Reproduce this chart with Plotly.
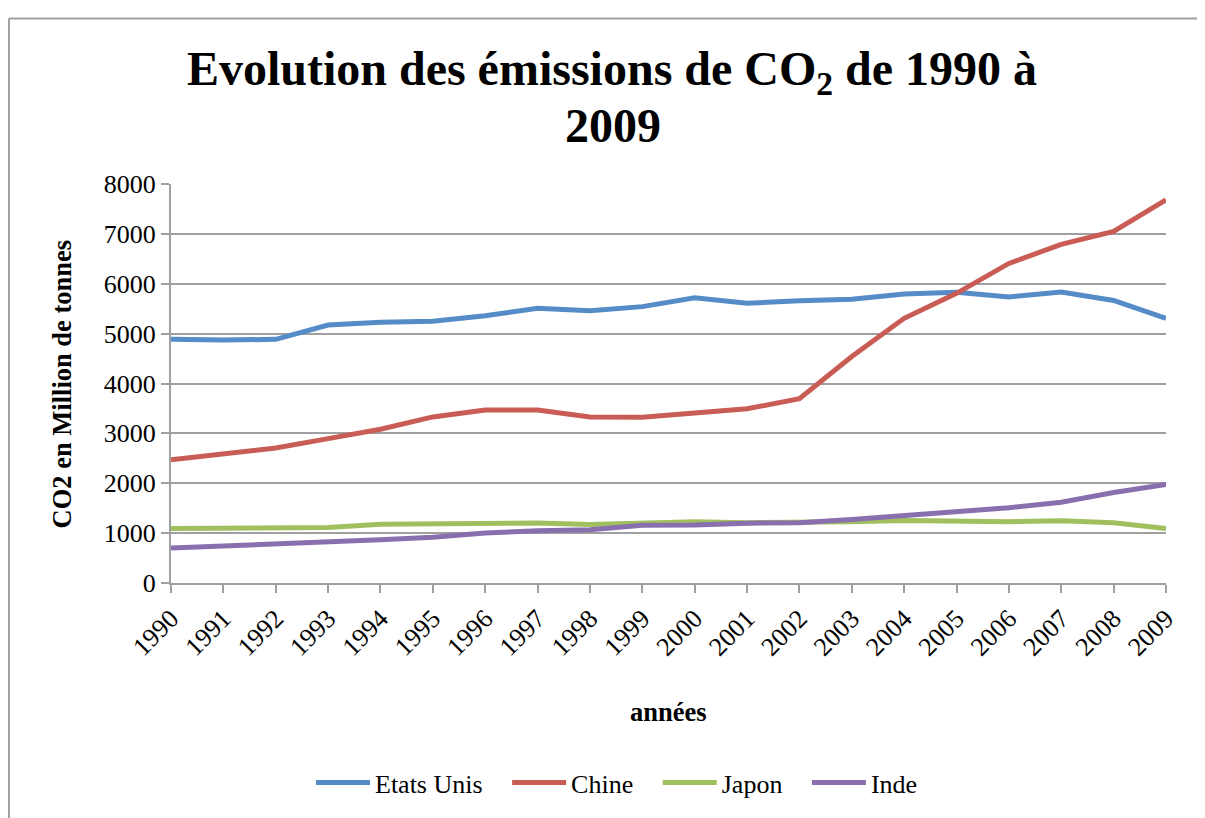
import plotly.graph_objects as go

years = list(range(1990, 2010))
etats_unis = [4885, 4871, 4885, 5171, 5229, 5249, 5359, 5509, 5457, 5541,
              5717, 5607, 5659, 5691, 5795, 5828, 5737, 5834, 5665, 5307]
chine = [2471, 2589, 2706, 2894, 3083, 3330, 3467, 3467, 3330, 3324,
         3415, 3493, 3694, 4540, 5307, 5808, 6407, 6790, 7050, 7681]
japon = [1093, 1099, 1125, 1112, 1177, 1184, 1203, 1203, 1171, 1210,
         1229, 1210, 1210, 1229, 1255, 1236, 1229, 1249, 1210, 1093]
inde = [702, 741, 780, 813, 865, 917, 1002, 1047, 1067, 1158,
        1164, 1197, 1210, 1275, 1353, 1418, 1509, 1620, 1815, 1977]
series_names = ["Etats Unis", "Chine", "Japon", "Inde"]
colors = ["#558BC6", "#C95D55", "#A0C05F", "#8A6FAE"]
y_ticks = [0, 1000, 2000, 3000, 4000, 5000, 6000, 7000, 8000]

# page body has an 8px margin: figure coords = page coords - 8
OFF = 8
W, H = 1205 - OFF, 818 - OFF
L, R, T, B = 171 - OFF, 1166 - OFF, 184 - OFF, 594 - OFF
FONT = "Liberation Serif, Times New Roman, serif"


def px_x(p):
    return (p - OFF - L) / (R - L)


def px_y(p):
    return (B - (p - OFF)) / (B - T)


fig = go.Figure()
for i, (name, vals, col) in enumerate(zip(series_names, [etats_unis, chine, japon, inde], colors)):
    label = name + ("&nbsp;&nbsp;&nbsp;" if i < len(series_names) - 1 else "")
    fig.add_trace(go.Scatter(x=years, y=vals, name=label, mode="lines",
                             line=dict(color=col, width=5)))

grid = "#A0A0A0"
fig.update_layout(
    width=W, height=H,
    margin=dict(l=L, r=W - R, t=T, b=H - B, pad=0),
    paper_bgcolor="white", plot_bgcolor="white",
    font=dict(family=FONT, color="black", size=26),
    title=dict(text="<b>Evolution des émissions de CO<sub>2</sub> de 1990 à</b>",
               x=(612 - OFF) / W, xanchor="center", y=1 - (68 - OFF) / H, yanchor="middle",
               font=dict(family=FONT, size=48, color="black")),
    xaxis=dict(range=[1990, 2009], tickmode="array", tickvals=years,
               ticktext=[str(y) for y in years], tickangle=-45,
               showgrid=False, showline=True, linecolor=grid, linewidth=2,
               ticks="outside", ticklen=8, tickcolor=grid, tickwidth=2,
               tickfont=dict(family=FONT, size=26, color="black"), zeroline=False),
    yaxis=dict(range=[0, 8000], tickvals=y_ticks, showgrid=True,
               gridcolor=grid, gridwidth=2, showline=True, linecolor=grid,
               linewidth=2, ticks="outside", ticklen=8, tickcolor=grid,
               tickwidth=2, tickfont=dict(family=FONT, size=26, color="black"),
               zeroline=False),
    showlegend=True,
    legend=dict(orientation="h", x=px_x(617), xanchor="center",
                y=px_y(799), yanchor="middle",
                font=dict(family=FONT, size=26, color="black"),
                itemwidth=54, bgcolor="rgba(0,0,0,0)"),
    annotations=[
        dict(text="<b>2009</b>", xref="paper", yref="paper",
             x=px_x(613), y=px_y(124), showarrow=False,
             font=dict(family=FONT, size=48, color="black"),
             xanchor="center", yanchor="middle"),
        dict(text="<b>CO2 en Million de tonnes</b>", xref="paper", yref="paper",
             x=px_x(62), y=px_y(390), textangle=-90, showarrow=False,
             font=dict(family=FONT, size=26.5, color="black"),
             xanchor="center", yanchor="middle"),
        dict(text="<b>années</b>", xref="paper", yref="paper",
             x=px_x(668), y=px_y(727), showarrow=False,
             font=dict(family=FONT, size=26.5, color="black"),
             xanchor="center", yanchor="middle"),
    ],
    shapes=[
        dict(type="line", xref="paper", yref="paper", x0=px_x(9), x1=px_x(9),
             y0=px_y(14), y1=px_y(900), line=dict(color="#A0A0A0", width=2)),
        dict(type="line", xref="paper", yref="paper", x0=px_x(9), x1=px_x(1300),
             y0=px_y(14), y1=px_y(14), line=dict(color="#A0A0A0", width=2)),
    ],
)

fig.write_html("out.html")
